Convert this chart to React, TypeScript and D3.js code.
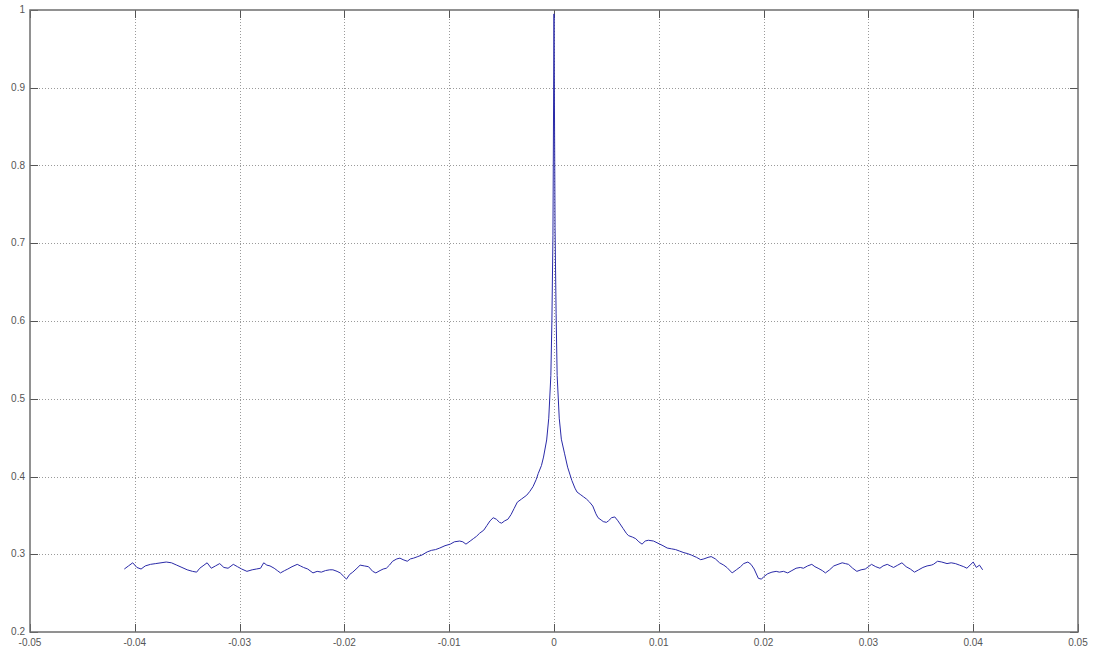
import React, { useEffect, useRef } from 'react';
import * as d3 from 'd3';

// x positions (lag)
const lagX = [
  -0.0410, -0.0406, -0.0402, -0.0398, -0.0394, -0.0390, -0.0385, -0.0380, -0.0375, -0.0370,
  -0.0365, -0.0360, -0.0355, -0.0350, -0.0345, -0.0341, -0.0338, -0.0334, -0.0331, -0.0327,
  -0.0323, -0.0319, -0.0315, -0.0311, -0.0306, -0.0302, -0.0298, -0.0293, -0.0288, -0.0284,
  -0.0280, -0.0277, -0.0274, -0.0271, -0.0267, -0.0264, -0.0261, -0.0257, -0.0254, -0.0250,
  -0.0245, -0.0242, -0.0239, -0.0235, -0.0230, -0.0226, -0.0222, -0.0218, -0.0214, -0.0211,
  -0.0207, -0.0204, -0.0201, -0.0198, -0.0195, -0.0192, -0.0188, -0.0185, -0.0181, -0.0177,
  -0.0173, -0.0170, -0.0166, -0.0163, -0.0160, -0.0157, -0.0154, -0.0150, -0.0147, -0.0144,
  -0.0140, -0.0137, -0.0134, -0.0130, -0.0126, -0.0121, -0.0117, -0.0113, -0.0109, -0.0104,
  -0.0099, -0.0095, -0.0090, -0.0087, -0.0084, -0.0080, -0.0077, -0.0074, -0.0071, -0.0067,
  -0.0064, -0.0061, -0.0058, -0.0055, -0.0052, -0.0050, -0.0047, -0.0044, -0.0041, -0.0038,
  -0.0035, -0.0031, -0.0026, -0.0023, -0.0020, -0.0017, -0.0015, -0.0012, -0.0010, -0.0007,
  -0.0005, -0.0003, -0.0002, -0.0001, 0,
  0.0001, 0.0002, 0.0003, 0.0005, 0.0007, 0.0010, 0.0013, 0.0017, 0.0020, 0.0022,
  0.0025, 0.0028, 0.0031, 0.0034, 0.0037, 0.0040, 0.0042, 0.0045, 0.0047, 0.0050,
  0.0052, 0.0055, 0.0058, 0.0061, 0.0063, 0.0066, 0.0069, 0.0071, 0.0075, 0.0078,
  0.0081, 0.0084, 0.0087, 0.0090, 0.0095, 0.0101, 0.0104, 0.0108, 0.0112, 0.0116,
  0.0120, 0.0124, 0.0127, 0.0131, 0.0136, 0.0140, 0.0143, 0.0147, 0.0150, 0.0154,
  0.0158, 0.0162, 0.0165, 0.0170, 0.0174, 0.0178, 0.0181, 0.0185, 0.0188, 0.0191,
  0.0195, 0.0198, 0.0200, 0.0204, 0.0208, 0.0212, 0.0215, 0.0219, 0.0223, 0.0227,
  0.0231, 0.0235, 0.0238, 0.0242, 0.0246, 0.0249, 0.0252, 0.0256, 0.0259, 0.0263,
  0.0267, 0.0271, 0.0275, 0.0278, 0.0281, 0.0285, 0.0289, 0.0293, 0.0297, 0.0300,
  0.0303, 0.0307, 0.0311, 0.0314, 0.0318, 0.0321, 0.0324, 0.0328, 0.0332, 0.0336,
  0.0340, 0.0344, 0.0348, 0.0352, 0.0356, 0.0360, 0.0362, 0.0366, 0.0370, 0.0375,
  0.0379, 0.0383, 0.0387, 0.0391, 0.0394, 0.0397, 0.0400, 0.0403, 0.0406, 0.0409,
];

// correlation values at each lag
const corrY = [
  0.281, 0.285, 0.289, 0.283, 0.281, 0.285, 0.287, 0.288, 0.289, 0.290,
  0.289, 0.286, 0.283, 0.280, 0.278, 0.277, 0.282, 0.286, 0.289, 0.282,
  0.285, 0.288, 0.283, 0.282, 0.287, 0.284, 0.281, 0.278, 0.280, 0.281,
  0.282, 0.289, 0.286, 0.285, 0.282, 0.279, 0.276, 0.279, 0.281, 0.284,
  0.287, 0.285, 0.283, 0.281, 0.276, 0.278, 0.277, 0.279, 0.280, 0.280,
  0.278, 0.276, 0.272, 0.268, 0.274, 0.277, 0.282, 0.286, 0.285, 0.284,
  0.278, 0.276, 0.279, 0.281, 0.282, 0.286, 0.291, 0.294, 0.295, 0.293,
  0.291, 0.294, 0.295, 0.297, 0.299, 0.303, 0.305, 0.306, 0.308, 0.311,
  0.313, 0.316, 0.317, 0.316, 0.313, 0.317, 0.320, 0.323, 0.327, 0.331,
  0.337, 0.343, 0.347, 0.345, 0.341, 0.340, 0.343, 0.345, 0.351, 0.359,
  0.367, 0.371, 0.376, 0.381, 0.387, 0.396, 0.404, 0.414, 0.425, 0.447,
  0.475, 0.530, 0.600, 0.710, 0.995,
  0.720, 0.610, 0.530, 0.475, 0.448, 0.430, 0.412, 0.395, 0.385, 0.380,
  0.377, 0.374, 0.371, 0.367, 0.362, 0.352, 0.347, 0.344, 0.342, 0.341,
  0.343, 0.347, 0.348, 0.343, 0.339, 0.333, 0.327, 0.324, 0.322, 0.320,
  0.316, 0.313, 0.317, 0.318, 0.317, 0.313, 0.311, 0.308, 0.307, 0.306,
  0.304, 0.302, 0.301, 0.299, 0.296, 0.293, 0.294, 0.296, 0.297, 0.294,
  0.289, 0.286, 0.283, 0.276, 0.280, 0.284, 0.288, 0.290, 0.287, 0.281,
  0.269, 0.268, 0.271, 0.275, 0.277, 0.278, 0.277, 0.278, 0.276, 0.279,
  0.282, 0.283, 0.282, 0.285, 0.287, 0.284, 0.282, 0.279, 0.276, 0.280,
  0.285, 0.287, 0.289, 0.288, 0.287, 0.282, 0.278, 0.280, 0.281, 0.284,
  0.287, 0.284, 0.282, 0.285, 0.287, 0.285, 0.283, 0.286, 0.289, 0.284,
  0.281, 0.277, 0.280, 0.283, 0.285, 0.286, 0.287, 0.291, 0.290, 0.288,
  0.289, 0.288, 0.286, 0.284, 0.282, 0.286, 0.290, 0.283, 0.286, 0.280,
];

const xTicks = [-0.05, -0.04, -0.03, -0.02, -0.01, 0, 0.01, 0.02, 0.03, 0.04, 0.05];
const yTicks = [0.2, 0.3, 0.4, 0.5, 0.6, 0.7, 0.8, 0.9, 1];

function App() {
  const ref = useRef<SVGSVGElement>(null);

  useEffect(() => {
    if (!ref.current) return;
    const svg = d3.select(ref.current);
    svg.selectAll('*').remove();

    const left = 30, top = 10, right = 1078, bottom = 632;
    const x = d3.scaleLinear().domain([-0.05, 0.05]).range([left, right]);
    const y = d3.scaleLinear().domain([0.2, 1]).range([bottom, top]);

    svg.append('rect')
      .attr('width', 1093).attr('height', 651).attr('fill', '#fff');

    // grid
    const grid = svg.append('g')
      .attr('stroke', '#9a9a9a')
      .attr('stroke-width', 1)
      .attr('stroke-dasharray', '1,2');
    grid.selectAll('.gx').data(xTicks.slice(1, -1)).enter().append('line')
      .attr('x1', d => Math.round(x(d)) + 0.5).attr('x2', d => Math.round(x(d)) + 0.5)
      .attr('y1', top).attr('y2', bottom);
    grid.selectAll('.gy').data(yTicks.slice(1, -1)).enter().append('line')
      .attr('y1', d => Math.round(y(d)) + 0.5).attr('y2', d => Math.round(y(d)) + 0.5)
      .attr('x1', left).attr('x2', right);

    // tick marks (inside, all four sides)
    const tk = svg.append('g').attr('stroke', '#555').attr('stroke-width', 1);
    xTicks.forEach(t => {
      const px = Math.round(x(t)) + 0.5;
      tk.append('line').attr('x1', px).attr('x2', px).attr('y1', bottom).attr('y2', bottom - 8);
      tk.append('line').attr('x1', px).attr('x2', px).attr('y1', top).attr('y2', top + 8);
    });
    yTicks.forEach(t => {
      const py = Math.round(y(t)) + 0.5;
      tk.append('line').attr('x1', left).attr('x2', left + 8).attr('y1', py).attr('y2', py);
      tk.append('line').attr('x1', right).attr('x2', right - 8).attr('y1', py).attr('y2', py);
    });

    // box
    svg.append('rect')
      .attr('x', left).attr('y', top)
      .attr('width', right - left).attr('height', bottom - top)
      .attr('fill', 'none').attr('stroke', '#6e6e6e').attr('stroke-width', 1.5);

    // line
    const pts: [number, number][] = lagX.map((v, i) => [v, corrY[i]]);
    const line = d3.line<[number, number]>().x(d => x(d[0])).y(d => y(d[1]));
    svg.append('path')
      .datum(pts)
      .attr('d', line)
      .attr('fill', 'none')
      .attr('stroke', '#2a2aa8')
      .attr('stroke-width', 1);

    // labels
    const fmt = (v: number) => (v === 0 ? '0' : String(+v.toFixed(2)));
    svg.append('g').selectAll('text').data(xTicks).enter().append('text')
      .attr('x', d => x(d)).attr('y', bottom + 14)
      .attr('text-anchor', 'middle')
      .style('font-family', 'Liberation Sans, Arial, sans-serif')
      .style('font-size', '10px').attr('fill', '#555')
      .text(d => fmt(d));
    svg.append('g').selectAll('text').data(yTicks).enter().append('text')
      .attr('x', left - 5).attr('y', d => y(d) + 3)
      .attr('text-anchor', 'end')
      .style('font-family', 'Liberation Sans, Arial, sans-serif')
      .style('font-size', '10px').attr('fill', '#555')
      .text(d => fmt(d));
  }, []);

  return (
    <svg ref={ref} width={1093} height={651}
      style={{ position: 'fixed', left: 0, top: 0, background: '#fff' }} />
  );
}

export default App;
